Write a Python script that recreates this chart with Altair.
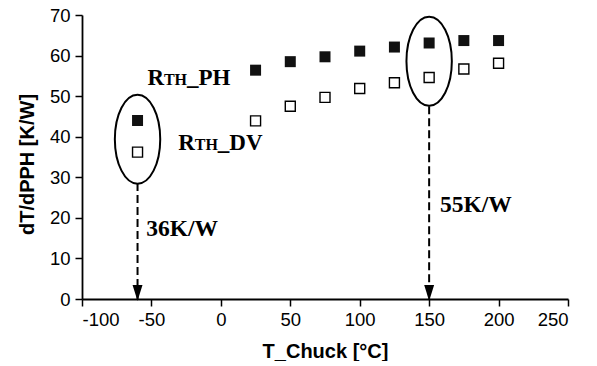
import altair as alt
import pandas as pd

# measured data
t_chuck = [-60, 25, 50, 75, 100, 125, 150, 175, 200]
r_th_ph = [44.0, 56.4, 58.5, 59.7, 61.1, 62.1, 63.1, 63.7, 63.7]
r_th_dv = [36.2, 43.9, 47.5, 49.7, 51.9, 53.3, 54.6, 56.7, 58.1]

# annotations
ellipse_x = [-60, 150]
ellipse_y = [39.4, 58.6]
arrow_x = [-60, 150]
arrow_top = [28.6, 47.5]
arrow_bottom = [0, 0]
value_text = ["36K/W", "55K/W"]
value_x = [-53.8, 157.8]
value_y = [15.6, 21.5]
series_suffix = ["_PH", "_DV"]
series_x = [-52.9, -30.6]
series_y = [52.7, 36.7]

x_scale = alt.Scale(domain=[-100, 250], nice=False, zero=False)
y_scale = alt.Scale(domain=[0, 70], nice=False)

x_axis = alt.Axis(title="T_Chuck [°C]", values=list(range(-100, 251, 50)), grid=False,
                  labelExpr="'' + datum.value",
                  domainColor="black", domainWidth=1.8, tickColor="black", tickWidth=1.5,
                  tickSize=7, labelFont="Liberation Sans", labelFontSize=18.5, labelColor="black",
                  labelPadding=4, titleFont="Liberation Sans", titleFontSize=20,
                  titleFontWeight="bold", titleColor="black", titleBaseline="alphabetic",
                  titleY=58)
y_axis = alt.Axis(title="dT/dPPH [K/W]", values=list(range(0, 71, 10)), grid=False,
                  labelExpr="'' + datum.value",
                  domainColor="black", domainWidth=1.8, tickColor="black", tickWidth=1.5,
                  tickSize=7, labelFont="Liberation Sans", labelFontSize=18.5, labelColor="black",
                  labelPadding=5, titleFont="Liberation Sans", titleFontSize=20,
                  titleFontWeight="bold", titleColor="black", titleAngle=-90,
                  titleBaseline="middle", titleAlign="center", titleX=-55, titleY=149)

pts = pd.DataFrame({"t": t_chuck, "ph": r_th_ph, "dv": r_th_dv})

ph_layer = alt.Chart(pts).mark_point(shape="square", size=121, filled=True, color="#111111",
                                     opacity=1).encode(
    x=alt.X("t:Q", scale=x_scale, axis=x_axis),
    y=alt.Y("ph:Q", scale=y_scale, axis=y_axis),
)
dv_layer = alt.Chart(pts).mark_point(shape="square", size=100, filled=True, fill="white",
                                     stroke="black", strokeWidth=1.4, opacity=1).encode(
    x=alt.X("t:Q", scale=x_scale),
    y=alt.Y("dv:Q", scale=y_scale),
)

a = 0.51
k = 0.5523
ka = k * a
ellipse_path = (f"M 0 -1 C {ka} -1 {a} {-k} {a} 0 C {a} {k} {ka} 1 0 1 "
                f"C {-ka} 1 {-a} {k} {-a} 0 C {-a} {-k} {-ka} -1 0 -1 Z")
ell = pd.DataFrame({"x": ellipse_x, "y": ellipse_y})
ell_layer = alt.Chart(ell).mark_point(shape=ellipse_path, size=7921, filled=False,
                                      stroke="black", strokeWidth=2, opacity=1).encode(
    x=alt.X("x:Q", scale=x_scale), y=alt.Y("y:Q", scale=y_scale))

arr = pd.DataFrame({"x": arrow_x, "y": arrow_top, "y2": arrow_bottom})
rule_layer = alt.Chart(arr).mark_rule(color="black", strokeWidth=2, strokeDash=[8, 4]).encode(
    x=alt.X("x:Q", scale=x_scale), y=alt.Y("y:Q", scale=y_scale), y2="y2:Q")
head_layer = alt.Chart(arr).mark_point(shape="M -0.62 -1 L 0.62 -1 L 0 1 Z", size=256,
                                       filled=True, color="black", opacity=1, yOffset=-6).encode(
    x=alt.X("x:Q", scale=x_scale), y=alt.Y("y2:Q", scale=y_scale))

vt = pd.DataFrame({"x": value_x, "y": value_y, "text": value_text})
val_layer = alt.Chart(vt).mark_text(font="Liberation Serif", fontWeight="bold", fontSize=23.5,
                                    align="left", baseline="alphabetic", color="black").encode(
    x=alt.X("x:Q", scale=x_scale), y=alt.Y("y:Q", scale=y_scale), text="text:N")

st = pd.DataFrame({"x": series_x, "y": series_y, "suffix": series_suffix})
r_layer = alt.Chart(st).mark_text(font="Liberation Serif", fontWeight="bold", fontSize=23,
                                  align="left", baseline="alphabetic", color="black").encode(
    x=alt.X("x:Q", scale=x_scale), y=alt.Y("y:Q", scale=y_scale), text=alt.value("R"))
th_layer = alt.Chart(st).mark_text(font="Liberation Serif", fontWeight="bold", fontSize=16,
                                   align="left", baseline="alphabetic", color="black",
                                   dx=16.5).encode(
    x=alt.X("x:Q", scale=x_scale), y=alt.Y("y:Q", scale=y_scale), text=alt.value("TH"))
suf_layer = alt.Chart(st).mark_text(font="Liberation Serif", fontWeight="bold", fontSize=23,
                                    align="left", baseline="alphabetic", color="black",
                                    dx=39.5).encode(
    x=alt.X("x:Q", scale=x_scale), y=alt.Y("y:Q", scale=y_scale), text="suffix:N")

chart = alt.layer(rule_layer, head_layer, ell_layer, ph_layer, dv_layer, val_layer,
                  r_layer, th_layer, suf_layer).properties(
    width=486, height=284,
    autosize=alt.AutoSizeParams(type="none"),
    padding={"left": 74, "top": 7, "right": 20, "bottom": 62},
    background="white",
).configure_view(stroke=None)

chart.save("out.html", embed_options={"renderer": "svg", "actions": False})
